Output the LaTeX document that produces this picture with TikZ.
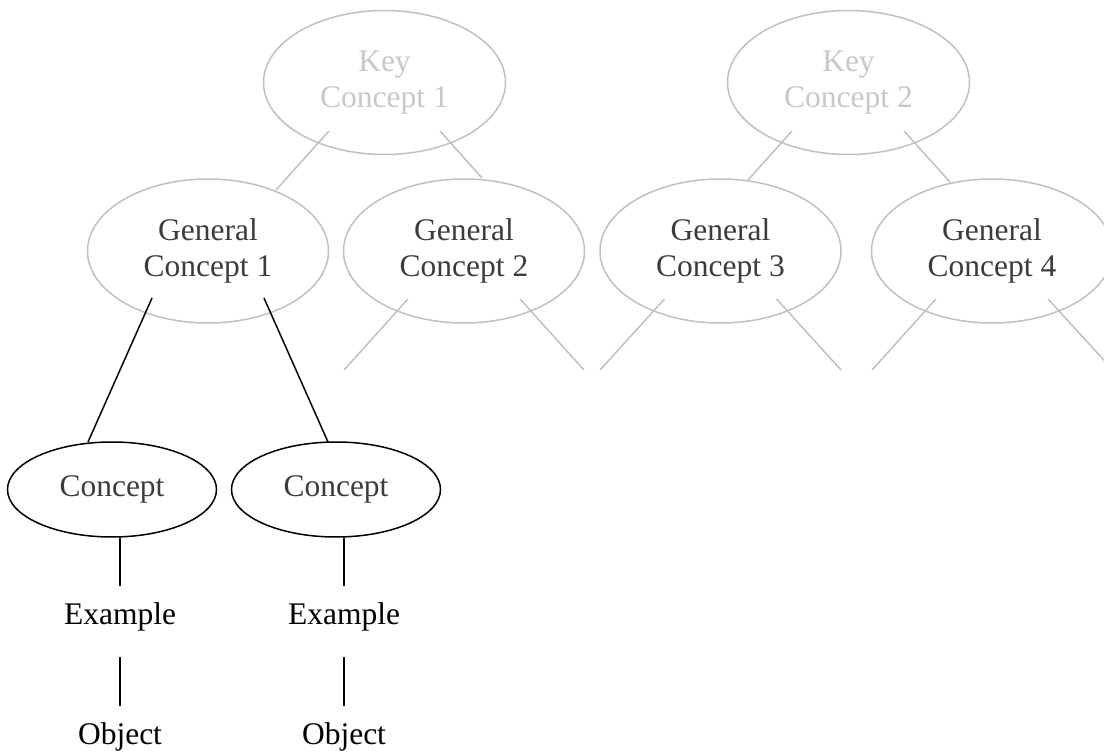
\documentclass[tikz,border=0pt]{standalone}
\usepackage{fontspec}
\setmainfont{Liberation Serif}
\usetikzlibrary{shapes.geometric,calc}
\definecolor{lightline}{HTML}{C0C0C0}
\definecolor{keytext}{HTML}{C8C8C8}
\definecolor{darktext}{HTML}{3C3C3C}
\tikzset{
  txt/.style={font=\fontsize{31.5}{36.6}\selectfont, align=center, inner sep=0pt},
  keybox/.style={txt, ellipse, draw=lightline, line width=1.5pt, text=keytext, minimum width=242pt, minimum height=144pt},
  genbox/.style={txt, ellipse, draw=lightline, line width=1.5pt, text=darktext, minimum width=241pt, minimum height=144pt},
  conbox/.style={txt, ellipse, draw=black, line width=1.5pt, text=darktext, minimum width=209pt, minimum height=95pt},
  plain/.style={txt, text=black, anchor=base},
  greyline/.style={draw=lightline, line width=1.5pt},
  blackline/.style={draw=black, line width=1.5pt}
}
\begin{document}
\begin{tikzpicture}[x=1pt,y=-1pt]
\useasboundingbox (0,0) rectangle (1104,754);
\begin{scope}
\clip (0,0) rectangle (1104,754);
% key concepts
\node[keybox] (k1) at (384.5,82.5) {Key\\Concept 1};
\node[keybox] (k2) at (848.5,82.5) {Key\\Concept 2};
% general concepts
\node[genbox] (g1) at (208,251) {General\\Concept 1};
\node[genbox] (g2) at (464,251) {General\\Concept 2};
\node[genbox] (g3) at (720.5,251) {General\\Concept 3};
\node[genbox] (g4) at (992,251) {General\\Concept 4};
% concepts
\node[conbox] (c1) at (112,489.5) {\raisebox{4pt}{Concept}};
\node[conbox] (c2) at (336,489.5) {\raisebox{4pt}{Concept}};
% examples and objects
\node[plain] (e1) at (120,624) {Example};
\node[plain] (e2) at (344,624) {Example};
\node[plain] (o1) at (120,744) {Object};
\node[plain] (o2) at (344,744) {Object};
% free ends of the open branches
\coordinate (g2l) at ($(g2.center)+(-120,119)$);
\coordinate (g2r) at ($(g2.center)+(120,119)$);
\coordinate (g3l) at ($(g3.center)+(-120.5,119)$);
\coordinate (g3r) at ($(g3.center)+(120.5,119)$);
\coordinate (g4l) at ($(g4.center)+(-120,119)$);
\coordinate (g4r) at ($(g4.center)+(121,119)$);
% grey connectors
\draw[greyline] ($(k1.center)+(-55.5,48.5)$) -- ($(g1.center)+(68,-61)$);
\draw[greyline] ($(k1.center)+(55.5,48.5)$) -- ($(g2.center)+(18,-73)$);
\draw[greyline] ($(k2.center)+(-56.5,48.5)$) -- ($(g3.center)+(27.5,-71)$);
\draw[greyline] ($(k2.center)+(55.5,48.5)$) -- ($(g4.center)+(-42,-69)$);
\draw[greyline] ($(g2.center)+(-56,48)$) -- (g2l);
\draw[greyline] ($(g2.center)+(56,48)$) -- (g2r);
\draw[greyline] ($(g3.center)+(-56,48)$) -- (g3l);
\draw[greyline] ($(g3.center)+(56,48)$) -- (g3r);
\draw[greyline] ($(g4.center)+(-56,48)$) -- (g4l);
\draw[greyline] ($(g4.center)+(56,48)$) -- (g4r);
% black connectors
\draw[blackline] ($(g1.center)+(-56,47)$) -- ($(c1.center)+(-24,-47.5)$);
\draw[blackline] ($(g1.center)+(56,47)$) -- ($(c2.center)+(-8,-47.5)$);
\draw[blackline] (c1.south -| e1.base) -- ($(e1.base)+(0,-38)$);
\draw[blackline] (c2.south -| e2.base) -- ($(e2.base)+(0,-38)$);
\draw[blackline] ($(e1.base)+(0,33)$) -- ($(o1.base)+(0,-38)$);
\draw[blackline] ($(e2.base)+(0,33)$) -- ($(o2.base)+(0,-38)$);
\end{scope}
\end{tikzpicture}
\end{document}
